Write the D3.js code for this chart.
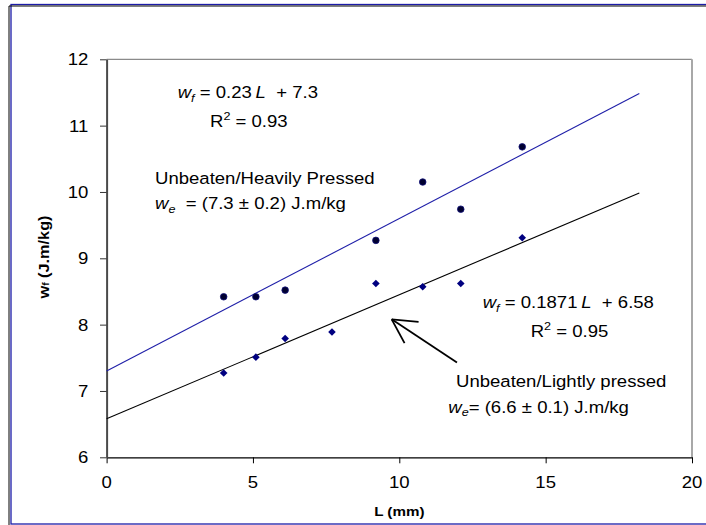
<!DOCTYPE html>
<html>
<head>
<meta charset="utf-8">
<script src="https://cdn.jsdelivr.net/npm/d3@7"></script>
<style>
  html, body { margin: 0; padding: 0; background: #fff; }
  svg { display: block; }
  text { font-family: "Liberation Sans", Arial, sans-serif; white-space: pre; }
</style>
</head>
<body>
<svg id="chart" width="706" height="525"></svg>
<script>
// ---------------- data ----------------
const heavyL = [4.0, 5.1, 6.1, 9.2, 10.8, 12.1, 14.2];
const heavyW = [8.42, 8.42, 8.52, 9.27, 10.15, 9.74, 10.68];
const lightL = [4.0, 5.1, 6.1, 7.7, 9.2, 10.8, 12.1, 14.2];
const lightW = [7.27, 7.51, 7.79, 7.89, 8.62, 8.57, 8.62, 9.31];
const heavyFit = [0.23, 7.3];      // slope, intercept
const lightFit = [0.1871, 6.58];   // slope, intercept
const fitRange = [0, 18.2];
const xTicks = [0, 5, 10, 15, 20];
const yTicks = [6, 7, 8, 9, 10, 11, 12];

// ---------------- layout ----------------
const svg = d3.select("#chart");
const x = d3.scaleLinear().domain([0, 20]).range([106.6, 692]);
const y = d3.scaleLinear().domain([6, 12]).range([457.3, 59.3]);
const FS = 16.5, SX = 1.125;

// outer frame
svg.append("rect").attr("x", 11).attr("y", 4.5).attr("width", 720).attr("height", 519.5)
  .attr("fill", "none").attr("stroke", "#1c1ca8").attr("stroke-width", 1.3);
svg.append("path").attr("d", "M9,525 V6 H706").attr("fill", "none")
  .attr("stroke", "#000").attr("stroke-width", 1);

// plot frame (top/right)
svg.append("line").attr("x1", x(0)).attr("x2", x(20)).attr("y1", y(12)).attr("y2", y(12))
  .attr("stroke", "#8a8a8a").attr("stroke-width", 1.3);
svg.append("line").attr("x1", x(20)).attr("x2", x(20)).attr("y1", y(12)).attr("y2", y(6))
  .attr("stroke", "#a8a8a8").attr("stroke-width", 2);

// x axis
const xAxis = svg.append("g").attr("transform", `translate(0,${y(6)})`)
  .call(d3.axisBottom(x).tickValues(xTicks).tickSize(6).tickSizeOuter(0).tickFormat(d3.format("d")));
xAxis.select(".domain").attr("stroke", "#000").attr("stroke-width", 1.3);
xAxis.selectAll(".tick line").attr("stroke", "#000");
xAxis.selectAll(".tick text").remove();
xTicks.forEach(t => {
  svg.append("text").attr("transform", `translate(${x(t)},488.3) scale(${SX},1)`)
    .attr("text-anchor", "middle").attr("font-size", FS).attr("fill", "#000").text(t);
});

// y axis
const yAxis = svg.append("g").attr("transform", `translate(${x(0)},0)`)
  .call(d3.axisLeft(y).tickValues(yTicks).tickSize(6.6).tickSizeOuter(0));
yAxis.select(".domain").attr("stroke", "#4a4a4a").attr("stroke-width", 2);
yAxis.selectAll(".tick line").attr("stroke", "#333");
yAxis.selectAll(".tick text").remove();
yTicks.forEach(t => {
  svg.append("text").attr("transform", `translate(88.3,${y(t) + 6}) scale(${SX},1)`)
    .attr("text-anchor", "end").attr("font-size", FS).attr("fill", "#000").text(t);
});

// axis titles
svg.append("text").attr("transform", `translate(${x(10)},516) scale(${SX},1)`)
  .attr("text-anchor", "middle").attr("font-size", 13.5).attr("font-weight", "bold").text("L (mm)");
const yt = svg.append("text").attr("transform", `translate(49,257) rotate(-90) scale(${SX},1)`)
  .attr("text-anchor", "middle").attr("font-size", 14.5).attr("font-weight", "bold");
yt.append("tspan").text("w");
yt.append("tspan").attr("font-size", 9).text("f");
yt.append("tspan").text(" (J.m/kg)");

// fit lines
function fitLine(fit, color) {
  const pts = fitRange.map(L => [x(L), y(fit[0] * L + fit[1])]);
  svg.append("path").attr("d", d3.line()(pts)).attr("fill", "none")
    .attr("stroke", color).attr("stroke-width", 1.1);
}
fitLine(heavyFit, "#1f1fa8");
fitLine(lightFit, "#000");

// markers
svg.append("g").selectAll("circle").data(heavyL).join("circle")
  .attr("cx", d => x(d)).attr("cy", (d, i) => y(heavyW[i])).attr("r", 3.3)
  .attr("fill", "#000030").attr("stroke", "#10107a").attr("stroke-width", 0.8);
const dm = 3.8;
svg.append("g").selectAll("path").data(lightL).join("path")
  .attr("d", (d, i) => {
    const cx = x(d), cy = y(lightW[i]);
    return `M${cx},${cy - dm}L${cx + dm},${cy}L${cx},${cy + dm}L${cx - dm},${cy}Z`;
  })
  .attr("fill", "#000080");

// annotations
function label(px, py, parts) {
  const t = svg.append("text").attr("transform", `translate(${px},${py}) scale(${SX},1)`)
    .attr("font-size", FS).attr("fill", "#000");
  parts.forEach(p => {
    const s = t.append("tspan").text(p.t);
    if (p.i) s.attr("font-style", "italic");
    if (p.sub) s.attr("font-size", FS * 0.68).attr("dy", 3.5);
    if (p.sup) s.attr("font-size", FS * 0.68).attr("dy", -7);
    if (p.reset) s.attr("dy", p.reset);
  });
}
label(177.7, 98.3, [{t: "w", i: 1}, {t: "f", i: 1, sub: 1}, {t: " = 0.23", reset: -3.5}, {t: "\u2009L", i: 1}, {t: "  + 7.3"}]);
label(210, 126.7, [{t: "R"}, {t: "2", sup: 1}, {t: " = 0.93", reset: 7}]);
label(155, 184, [{t: "Unbeaten/Heavily Pressed"}]);
label(155, 209.3, [{t: "w", i: 1}, {t: "e", i: 1, sub: 1}, {t: "  = (7.3 ± 0.2) J.m/kg", reset: -3.5}]);

label(482.7, 308.3, [{t: "w", i: 1}, {t: "f", i: 1, sub: 1}, {t: " = 0.1871", reset: -3.5}, {t: "\u2009L", i: 1}, {t: "  + 6.58"}]);
label(530.7, 336.7, [{t: "R"}, {t: "2", sup: 1}, {t: " = 0.95", reset: 7}]);
label(456, 387.3, [{t: "Unbeaten/Lightly pressed"}]);
label(448.3, 412.7, [{t: "w", i: 1}, {t: "e", i: 1, sub: 1}, {t: "= (6.6 ± 0.1) J.m/kg", reset: -3.5}]);

// arrow (data coords)
const tip = [x(9.74), y(8.08)], tail = [x(11.97), y(7.43)];
const g = svg.append("g").attr("stroke", "#000").attr("stroke-width", 1.8).attr("fill", "none");
g.append("line").attr("x1", tail[0]).attr("y1", tail[1]).attr("x2", tip[0]).attr("y2", tip[1]);
const ang = Math.atan2(tail[1] - tip[1], tail[0] - tip[0]);
[-0.49, 0.49].forEach(da => {
  g.append("line").attr("x1", tip[0]).attr("y1", tip[1])
    .attr("x2", tip[0] + 27 * Math.cos(ang + da)).attr("y2", tip[1] + 27 * Math.sin(ang + da));
});
</script>
</body>
</html>
